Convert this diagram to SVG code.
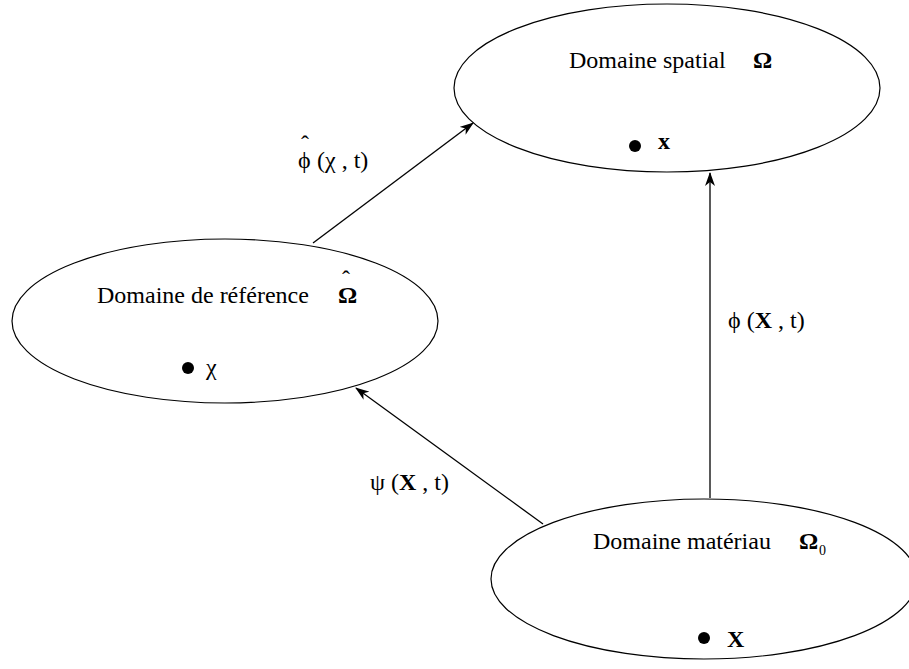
<svg xmlns="http://www.w3.org/2000/svg" width="909" height="669" viewBox="0 0 909 669">
<style>
.ell{fill:none;stroke:#000;stroke-width:1.2}
.t{font-family:"Liberation Serif","DejaVu Serif","Times New Roman",serif;font-size:24px;fill:#000}
.b{font-weight:bold}
.c{stroke:#000;stroke-width:1.3;fill:none}
</style>
<defs>
<marker id="ah" markerWidth="14" markerHeight="10" refX="13" refY="5" orient="auto" markerUnits="userSpaceOnUse">
<path d="M0,0 L14,5 L0,10 L4,5 Z" fill="#000"/>
</marker>
</defs>
<rect width="909" height="669" fill="#fff"/>
<g id="spatial">
<ellipse class="ell" cx="667" cy="88" rx="213" ry="84"/>
<text class="t" x="569" y="68">Domaine spatial</text>
<text class="t b" x="753" y="68">Ω</text>
<circle cx="635" cy="146" r="6"/>
<text class="t b" x="658" y="149">x</text>
</g>
<g id="reference">
<ellipse class="ell" cx="225" cy="321" rx="213" ry="82"/>
<text class="t" x="97" y="303">Domaine de référence</text>
<text class="t" x="338" y="303"><tspan class="b">Ω</tspan><tspan x="342" dy="-16">ˆ</tspan></text>
<circle cx="188" cy="368" r="6"/>
<text class="t" x="206" y="375">χ</text>
</g>
<g id="materiau">
<ellipse class="ell" cx="704" cy="579" rx="213" ry="80"/>
<text class="t" x="593" y="549">Domaine matériau</text>
<text class="t" x="799" y="549"><tspan class="b">Ω</tspan><tspan x="819" dy="6" style="font-size:14px">0</tspan></text>
<circle cx="704" cy="638" r="6"/>
<text class="t b" x="727" y="647">X</text>
</g>
<g id="connectors">
<line class="c" x1="313" y1="243" x2="473" y2="123" marker-end="url(#ah)"/>
<line class="c" x1="543" y1="524" x2="356" y2="388" marker-end="url(#ah)"/>
<line class="c" x1="710" y1="498" x2="710" y2="173" marker-end="url(#ah)"/>
<text class="t" x="298" y="168">ϕ<tspan x="301" dy="-16">ˆ</tspan><tspan x="311" dy="16"> (χ , t)</tspan></text>
<text class="t" x="370" y="490">ψ (<tspan class="b">X</tspan> , t)</text>
<text class="t" x="728" y="328">ϕ (<tspan class="b">X</tspan> , t)</text>
</g>
</svg>
